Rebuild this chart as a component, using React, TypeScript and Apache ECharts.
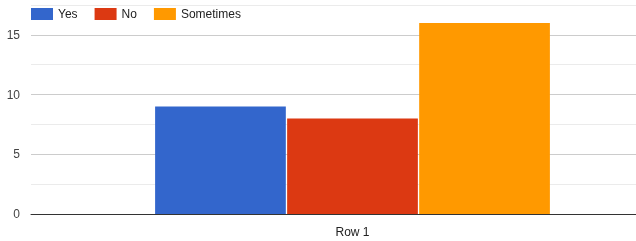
import React, { useEffect, useRef } from "react";
import * as echarts from "echarts";

const categories = ["Row 1"];
const seriesNames = ["Yes", "No", "Sometimes"];
const yesValues = [9];
const noValues = [8];
const sometimesValues = [16];
const colors = ["#3366cc", "#dc3912", "#ff9900"];

export default function App() {
  const ref = useRef<HTMLDivElement>(null);
  useEffect(() => {
    document.body.style.margin = "0";
    const chart = echarts.init(ref.current!, null, { renderer: "svg" });
    const values = [yesValues, noValues, sometimesValues];
    chart.setOption({
      animation: false,
      textStyle: { fontFamily: "Liberation Sans, Arial, sans-serif" },
      legend: {
        left: 26,
        top: 3,
        itemWidth: 22,
        itemHeight: 12,
        itemGap: 17,
        icon: "rect",
        textStyle: { fontSize: 12, color: "#222" },
        data: seriesNames,
      },
      grid: { left: 31, right: 0, top: 5, bottom: 27, containLabel: false },
      xAxis: {
        type: "category",
        data: categories,
        axisLine: { show: true, lineStyle: { color: "#333", width: 1 } },
        axisTick: { show: false },
        axisLabel: { fontSize: 12, color: "#222", margin: 12 },
      },
      yAxis: {
        type: "value",
        min: 0,
        max: 17.5,
        interval: 2.5,
        axisLine: { show: false },
        axisTick: { show: false },
        axisLabel: {
          fontSize: 12,
          color: "#444",
          margin: 11,
          formatter: (v: number) => (v % 5 === 0 ? String(v) : ""),
        },
        splitLine: { lineStyle: { color: ["#cccccc", "#ebebeb"], width: 1 } },
      },
      series: seriesNames.map((name, i) => ({
        name,
        type: "bar",
        data: values[i],
        barGap: "1%",
        barCategoryGap: "38.6%",
        itemStyle: { color: colors[i] },
      })),
    });
    return () => chart.dispose();
  }, []);
  return (
    <div
      style={{
        position: "fixed",
        left: 0,
        top: 0,
        width: 636,
        height: 241,
        overflow: "hidden",
      }}
    >
      <div ref={ref} style={{ width: 674, height: 241 }} />
    </div>
  );
}
